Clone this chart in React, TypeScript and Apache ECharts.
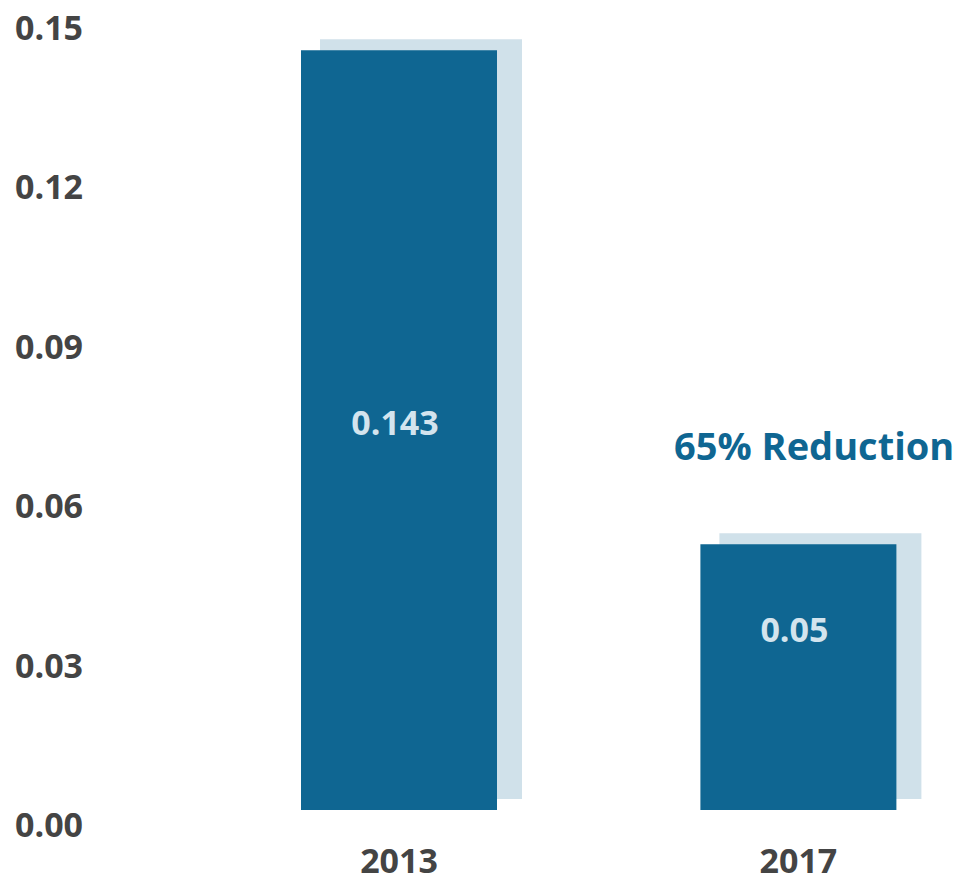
import React, { useEffect, useRef } from "react";
import * as echarts from "echarts";

const categories = ["2013", "2017"];
const values = [0.143, 0.05];
const yTicks = { min: 0, max: 0.15, interval: 0.03 };
const annotation = "65% Reduction";

const MAIN = "#0f6692";
const SHADOW = "#d0e1ea";
const VALUE_TEXT = "#d3e4ee";
const AXIS_TEXT = "#444444";
const FONT = "'Open Sans', 'Noto Sans', sans-serif";
// label vertical placement within each bar (fraction of bar height from top)
const labelRatio = [0.49, 0.32];

export default function App() {
  const ref = useRef<HTMLDivElement>(null);
  useEffect(() => {
    if (!ref.current) return;
    const chart = echarts.init(ref.current, undefined, { renderer: "svg" });
    chart.setOption({
      animation: false,
      backgroundColor: "#ffffff",
      grid: { left: 399, right: 161.6, top: 13, bottom: 68, containLabel: false },
      xAxis: {
        type: "category",
        data: categories,
        boundaryGap: false,
        axisLine: { show: false },
        axisTick: { show: false },
        splitLine: { show: false },
        axisLabel: {
          margin: 35,
          fontSize: 34,
          lineHeight: 30,
          fontWeight: "bold",
          fontFamily: FONT,
          color: AXIS_TEXT,
        },
      },
      yAxis: {
        type: "value",
        min: yTicks.min,
        max: yTicks.max,
        interval: yTicks.interval,
        axisLine: { show: false },
        axisTick: { show: false },
        splitLine: { show: false },
        axisLabel: {
          margin: 384,
          align: "left",
          verticalAlign: "top",
          lineHeight: 28,
          fontSize: 34,
          fontWeight: "bold",
          fontFamily: FONT,
          color: AXIS_TEXT,
          formatter: (v: number) => v.toFixed(2),
        },
      },
      series: [
        {
          type: "custom",
          clip: false,
          data: values.map((v, i) => [i, v]),
          encode: { x: 0, y: 1 },
          renderItem: (params: any, api: any) => {
            const idx = api.value(0);
            const v = api.value(1);
            const top = api.coord([idx, v]);
            const base = api.coord([idx, 0]);
            const w = 196;
            const h = base[1] - top[1];
            return {
              type: "group",
              children: [
                {
                  type: "rect",
                  shape: { x: top[0] - w / 2 + 19, y: top[1] - 11, width: w + 6, height: h },
                  style: { fill: SHADOW },
                },
                {
                  type: "rect",
                  shape: { x: top[0] - w / 2, y: top[1], width: w, height: h },
                  style: { fill: MAIN },
                },
                {
                  type: "text",
                  style: {
                    text: String(values[params.dataIndex]),
                    x: top[0] - 4,
                    y: top[1] + h * labelRatio[params.dataIndex],
                    align: "center",
                    verticalAlign: "middle",
                    fill: VALUE_TEXT,
                    fontSize: 34,
                    fontWeight: "bold",
                    fontFamily: FONT,
                  },
                },
              ],
            };
          },
        },
      ],
      graphic: [
        {
          type: "text",
          x: 674,
          y: 445,
          style: {
            text: annotation,
            fill: MAIN,
            fontSize: 38,
            fontWeight: "bold",
            fontFamily: FONT,
            align: "left",
            verticalAlign: "middle",
          },
        },
      ],
    });
    return () => chart.dispose();
  }, []);
  return (
    <div
      ref={ref}
      style={{ position: "fixed", left: 0, top: 0, width: 960, height: 878 }}
    />
  );
}
